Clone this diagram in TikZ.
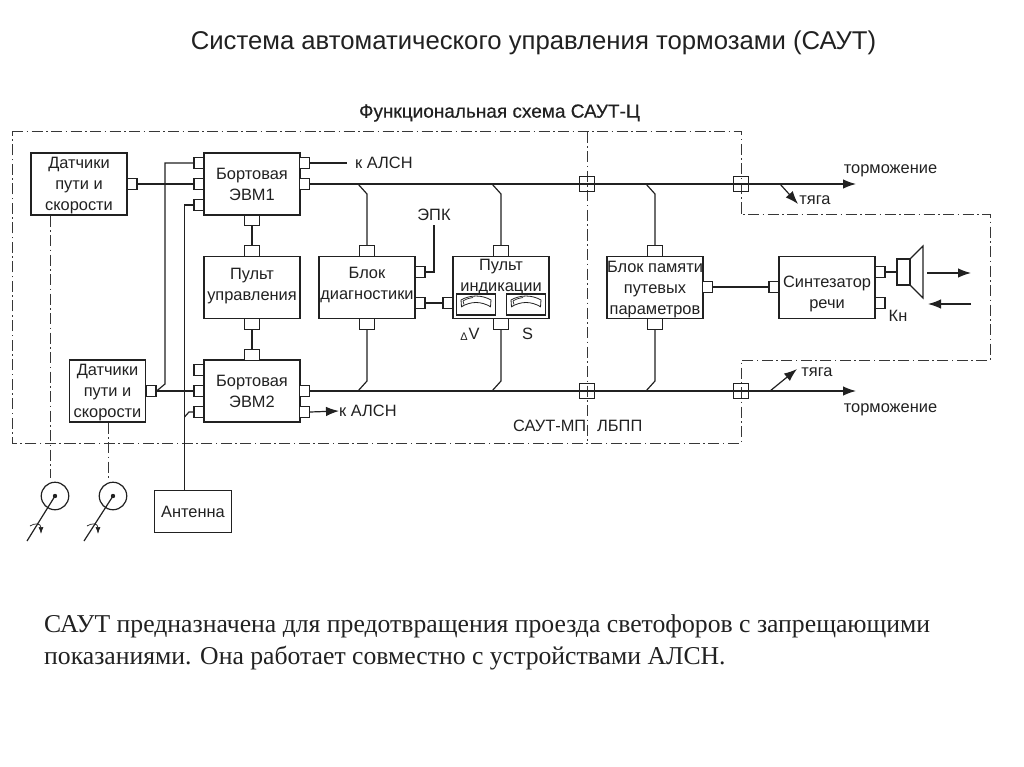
\documentclass[tikz,border=0pt]{standalone}
\usepackage{fontspec}
\setmainfont{Liberation Sans}
\newfontfamily\bodyfont{Liberation Serif}
\newfontfamily\subfont[FakeBold=0.4]{Liberation Sans}
\usetikzlibrary{arrows.meta,calc}
\definecolor{ink}{gray}{0.13}
\tikzset{
  x=1pt,y=-1pt,
  wire/.style={line width=1.2pt,draw=ink},
  ddash/.style={line width=1pt,draw=ink!90,dash pattern=on 11pt off 3.5pt on 1.5pt off 3.5pt},
  block/.style={draw=ink,line width=1.2pt,fill=white,inner sep=0pt,align=center,text=ink,font=\fontsize{16.4}{21}\selectfont},
  bigblock/.style={block,minimum width=96pt,minimum height=62pt},
  blocktext/.style={inner sep=0pt,align=center,text=ink,font=\fontsize{16.4}{21}\selectfont},
  hport/.style={draw=ink,line width=1.2pt,fill=white,inner sep=0pt,minimum width=10pt,minimum height=10.5pt},
  vport/.style={draw=ink,line width=1.2pt,fill=white,inner sep=0pt,minimum width=14.5pt,minimum height=10.5pt},
  junct/.style={draw=ink,line width=1.2pt,inner sep=0pt,minimum size=15pt},
  lab/.style={inner sep=0pt,text=ink,font=\fontsize{16.4}{19}\selectfont},
  tip/.style={-{Latex[length=13pt,width=9.5pt]}},
  smalltip/.style={-{Latex[length=7pt,width=5pt]}},
}
\begin{document}
\begin{tikzpicture}
\useasboundingbox (0,0) rectangle (1024,767);
% frame
\coordinate (f1) at (12,132);\coordinate (f2) at (741,132);\coordinate (f3) at (741,215);
\coordinate (f4) at (990,215);\coordinate (f5) at (990,360);\coordinate (f6) at (741,360);
\coordinate (f7) at (741,443);\coordinate (f8) at (12,443);
\coordinate (g1) at (587,132);\coordinate (g2) at (587,443);
\draw[ddash] (f1)--(f2)--(f3)--(f4)--(f5)--(f6)--(f7)--(f8)--cycle;
\draw[ddash] (g1)--(g2);
% titles
\node[inner sep=0pt,text=ink,font=\fontsize{25.7}{30}\selectfont] (title) at (533.5,43) {Система автоматического управления тормозами (САУТ)};
\node[inner sep=0pt,text=ink,font=\subfont\fontsize{19}{22}\selectfont] (sub) at (499.5,113) {Функциональная схема САУТ-Ц};
\node[inner sep=0pt,anchor=west,text=ink,font=\bodyfont\fontsize{25.7}{32}\selectfont] (body1) at (44,626) {САУТ предназначена для предотвращения проезда светофоров с запрещающими};
\node[inner sep=0pt,anchor=west,text=ink,font=\bodyfont\fontsize{25.7}{32}\selectfont] (body2) at (44,658) {показаниями. Она работает совместно с устройствами АЛСН.};
% blocks
\node[bigblock] (s1) at (79,184) {};
\node[blocktext] (s1tx) at (79,186) {Датчики\\пути и\\скорости};
\node[block,minimum width=76.5pt,minimum height=62pt] (s2) at (107.5,391) {};
\node[blocktext] (s2tx) at (107.5,393) {Датчики\\пути и\\скорости};
\node[bigblock] (e1) at (252,184) {Бортовая\\ЭВМ1};
\node[bigblock] (pu) at (252,287.5) {};
\node[blocktext] (putx) at (252,286) {Пульт\\управления};
\node[bigblock] (e2) at (252,391) {Бортовая\\ЭВМ2};
\node[bigblock] (bd) at (367,287.5) {};
\node[blocktext] (bdtx) at (367,285) {Блок\\диагностики};
\node[bigblock] (pi) at (501,287.5) {};
\node[blocktext] (pit) at (501,277) {Пульт\\индикации};
\node[bigblock] (bp) at (655,287.5) {};
\node[blocktext] (bptx) at (655,289.5) {Блок памяти\\путевых\\параметров};
\node[bigblock] (si) at (827,287.5) {};
\node[blocktext] (sitx) at (827,294) {Синтезатор\\речи};
\node[block,minimum width=76.5pt,minimum height=41.5pt] (ant) at (193,511.5) {Антенна};
% ports
\node[hport] (s1r) at (132,184) {};
\node[hport] (s2r) at (151,391) {};
\foreach \n/\y in {a/163,b/184,c/205}{\node[hport] (e1\n) at (199,\y) {};}
\foreach \n/\y in {a/163,b/184}{\node[hport] (e1r\n) at (304.5,\y) {};}
\foreach \n/\y in {a/370,b/391,c/412}{\node[hport] (e2\n) at (199,\y) {};}
\foreach \n/\y in {a/391,b/412}{\node[hport] (e2r\n) at (304.5,\y) {};}
\node[vport] (e1d) at (252,220.5) {};
\node[vport] (putp) at (252,251) {};
\node[vport] (pud) at (252,324) {};
\node[vport] (e2u) at (252,355) {};
\node[vport] (bdt) at (367,251) {};
\node[vport] (bdd) at (367,324) {};
\node[vport] (pit1) at (501,251) {};
\node[vport] (pid) at (501,324) {};
\node[vport] (bpt) at (655,251) {};
\node[vport] (bpd) at (655,324) {};
\node[hport] (bdra) at (420,272) {};
\node[hport] (bdrb) at (420,303) {};
\node[hport] (pil) at (448,303) {};
\node[hport] (bpr) at (707.5,287) {};
\node[hport] (sil) at (774,287) {};
\node[hport] (sira) at (880,272) {};
\node[hport] (sirb) at (880,303) {};
% junctions
\node[junct] (j1) at (587,184) {};
\node[junct] (j2) at (741,184) {};
\node[junct] (j3) at (587,391) {};
\node[junct] (j4) at (741,391) {};
% left wiring
\draw[wire] (s1r.east)--(e1b.west);
\coordinate (c1) at (165,163);\coordinate (c2) at (165,384);
\draw[wire] (e1a.west)--(c1)--(c2)--(s2r.east);
\draw[wire] (s2r.east)--(e2b.west);
\coordinate (c4) at (184.5,205);\coordinate (c5) at (184.5,417);\coordinate (c6) at (189,412);
\draw[wire] (e1c.west)--(c4)--(ant.north -| c4);
\draw[wire] (c5)--(c6)--(e2c.west);
\draw[wire] (e1d.south)--(putp.north);
\draw[wire] (pud.south)--(e2u.north);
% buses
\coordinate (t1) at (856,184);\coordinate (t2) at (856,391);
\draw[wire,tip] (e1rb.east)--(t1);
\draw[wire,tip] (e2ra.east)--(t2);
% ALSN
\coordinate (a1) at (347,163);
\draw[wire] (e1ra.east)--(a1);
\node[lab,anchor=west] (alsn1) at (355,163) {к АЛСН};
\node[lab,anchor=west] (alsn2) at (339,411) {к АЛСН};
\draw[wire,tip] (e2rb.east)--(alsn2.west);
% stubs to buses
\foreach \p/\q/\x/\nm in {bdt/bdd/367/a,pit1/pid/501/b,bpt/bpd/655/c}{
  \coordinate (up\nm) at (\x,194);\coordinate (upb\nm) at (\x-9,184);
  \coordinate (dn\nm) at (\x,381);\coordinate (dnb\nm) at (\x-9,391);
  \draw[wire] (\p.north)--(up\nm)--(upb\nm);
  \draw[wire] (\q.south)--(dn\nm)--(dnb\nm);
}
% diag right
\node[lab] (epk) at (434,215) {ЭПК};
\coordinate (ep) at (434,272);\coordinate (ep2) at (434,225);
\draw[wire] (bdra.east)--(ep)--(ep2);
\draw[wire] (bdrb.east)--(pil.west);
% meters
\foreach \n/\x in {m1/476,m2/526}{
  \node[draw=ink,line width=1.2pt,fill=white,minimum width=38.5pt,minimum height=21pt,inner sep=0pt] (\n) at (\x,304.5) {};
  \draw[line width=0.8pt,draw=ink] ($(\n.center)+(-15,-4.5)$) .. controls ($(\n.center)+(-6,-9.8)$) and ($(\n.center)+(6,-9.8)$) .. ($(\n.center)+(15,-4.5)$) -- ($(\n.center)+(14.5,2.2)$) .. controls ($(\n.center)+(5,-3.4)$) and ($(\n.center)+(-5,-3.4)$) .. ($(\n.center)+(-14.5,2.2)$) -- cycle;
  \draw[line width=0.7pt,draw=ink] ($(\n.center)+(-13,-3.5)$) -- ($(\n.center)+(-12,0)$);
  \draw[line width=0.7pt,draw=ink] ($(\n.center)+(-13,-3.5)$) .. controls ($(\n.center)+(-9,-6)$) and ($(\n.center)+(-6,-6.5)$) .. ($(\n.center)+(-3,-7)$);
}
\node[inner sep=0pt,text=ink,font=\fontsize{11}{12}\selectfont] (dv) at (464,337) {Δ};
\node[lab] (vv) at (474,334) {V};
\node[lab] (ss) at (527.5,334) {S};
% bottom block labels
\node[lab,anchor=west] (mp) at (513,426) {САУТ-МП};
\node[lab,anchor=west] (lb) at (597,426) {ЛБПП};
\node[lab] (br1) at (890.5,171) {торможение};
\node[lab] (br2) at (890.5,410) {торможение};
\node[lab] (ty1) at (815,200) {тяга};
\node[lab] (ty2) at (817,372) {тяга};
\coordinate (b1) at (780,184);\coordinate (b2) at (798,204);\coordinate (b3) at (770,391);\coordinate (b4) at (797,369);
\draw[wire,tip] (b1)--(b2);
\draw[wire,tip] (b3)--(b4);
% synth
\draw[wire] (bpr.east)--(sil.west);
\node[draw=ink,line width=1.2pt,fill=white,minimum width=13pt,minimum height=26pt,inner sep=0pt] (spk) at (903.5,272) {};
\draw[wire] (sira.east)--(spk.west);
\coordinate (k1) at (923,246);\coordinate (k2) at (923,298);
\draw[wire] (spk.north east)--(k1)--(k2)--(spk.south east);
\coordinate (w1) at (927,273);\coordinate (w2) at (971,273);\coordinate (w3) at (971,304);\coordinate (w4) at (928,304);
\draw[wire,tip] (w1)--(w2);
\draw[wire,tip] (w3)--(w4);
\node[lab] (kn) at (898,316) {Кн};
% sensors
\foreach \n/\cx/\ex in {r1/55/27,r2/113/84}{
  \node[draw=ink,line width=1.2pt,circle,minimum size=27.5pt,inner sep=0pt] (\n) at (\cx,496) {};
  \fill[ink] (\n.center) circle (2.2pt);
  \coordinate (\n e) at (\ex,541);
  \draw[wire] (\n.center)--(\n e);
  \coordinate (\n a) at (\ex+3,526);
  \coordinate (\n b) at (\ex+14,534);
  \draw[line width=0.7pt,draw=ink,smalltip] (\n a) .. controls ($(\n a)+(4,-3)$) and ($(\n b)+(0,-11)$) .. (\n b);
}
\coordinate (d1) at (50,215);\coordinate (d2) at (50,478);\coordinate (d3) at (108,422);\coordinate (d4) at (108,478);
\draw[ddash] (s1.south -| d1)--(d2);
\draw[ddash] (s2.south -| d3)--(d4);
\end{tikzpicture}
\end{document}
